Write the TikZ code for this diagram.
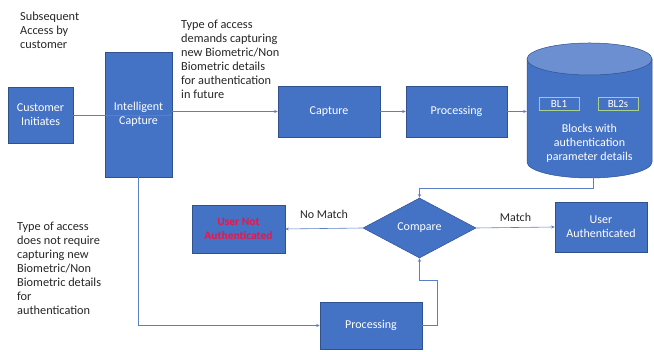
\documentclass[tikz,border=0pt]{standalone}
\usepackage{fontspec}
\setmainfont{Carlito}
\usetikzlibrary{arrows.meta,shapes.geometric}
\definecolor{boxblue}{HTML}{4472C4}
\definecolor{boxedge}{HTML}{2F528F}
\definecolor{lidblue}{HTML}{6C8FD2}
\definecolor{linkblue}{HTML}{5B7FC4}
\definecolor{notered}{HTML}{E8174B}
\definecolor{bltag}{HTML}{A9D18E}
\definecolor{inktext}{HTML}{262626}
\tikzset{
  block/.style={draw=boxedge, line width=0.5pt, fill=boxblue, text=white,
    align=center, inner sep=1pt, font=\fontsize{12}{14}\selectfont},
  decision/.style={diamond, draw=boxedge, line width=0.5pt, fill=boxblue,
    text=white, inner sep=0pt, font=\fontsize{12}{14}\selectfont},
  note/.style={align=left, text=inktext, inner sep=0pt,
    font=\fontsize{12.3}{14}\selectfont},
  link/.style={draw=linkblue, line width=0.6pt,
    -{Stealth[length=3.5pt,width=3pt]}},
  tag/.style={draw=bltag, line width=0.6pt, text=white, inner sep=0pt,
    minimum width=40pt, minimum height=13pt, font=\fontsize{11}{13}\selectfont},
  edgelabel/.style={above, text=inktext, font=\fontsize{12}{14}\selectfont},
}
\begin{document}
\begin{tikzpicture}[x=1pt,y=1pt]
\useasboundingbox (0,0) rectangle (654,352);

% process blocks
\node[block, minimum width=65pt, minimum height=56pt] (ci) at (40.5,237) {Customer\\Initiates};
\node[block, minimum width=67pt, minimum height=125pt] (ic) at (138.5,237.5) {Intelligent\\Capture};
\node[block, minimum width=102pt, minimum height=51pt] (cap) at (329,240.5) {Capture};
\node[block, minimum width=101pt, minimum height=51pt] (proc) at (456.5,240.5) {Processing};
\node[block, minimum width=102pt, minimum height=47pt] (proc2) at (371,26.5) {Processing};
\node[block, minimum width=92pt, minimum height=50pt] (ua) at (601,125) {User\\Authenticated};
\node[block, minimum width=93pt, minimum height=48pt, text=notered,
  font=\bfseries\fontsize{11.5}{13.5}\selectfont] (una) at (238.5,123) {User Not\\Authenticated};
\node[decision, minimum width=113pt, minimum height=60pt, aspect=1.9] (cmp) at (419.5,124) {Compare};

% storage cylinder
\fill[boxblue, draw=boxedge, line width=0.5pt]
  (527,293) -- (527,190) arc[start angle=180, end angle=360, x radius=62.5, y radius=16]
  -- (652,293) -- cycle;
\fill[lidblue, draw=boxedge, line width=0.5pt] (589.5,293) ellipse [x radius=62.5, y radius=16];
\node[inner sep=0pt, minimum width=125pt, minimum height=119pt] (db) at (589.5,233.5) {};
\node[tag] (bl1) at (559,248.5) {BL1};
\node[tag] (bl2) at (618,248.5) {BL2s};
\node[text=white, align=center, font=\fontsize{12}{14}\selectfont] (dbtxt) at (589.5,209)
  {Blocks with\\authentication\\parameter details};

% annotations
\node[note, anchor=north west] (n1) at (20,340) {Subsequent\\Access by\\customer};
\node[note, anchor=north west] (n2) at (181,332) {Type of access\\demands capturing\\new Biometric/Non\\Biometric details\\for authentication\\in future};
\node[note, anchor=north west] (n3) at (17,130) {Type of access\\does not require\\capturing new\\Biometric/Non\\Biometric details\\for\\authentication};

% connectors
\draw[link] (ci.east) -- (ic.east |- ci.east);
\draw[link] (ic.east |- cap.west) -- (cap.west);
\draw[link] (cap.east) -- (proc.west);
\draw[link] (proc.east) -- (db.west |- proc.east);
\draw[link] (ic.south) |- (proc2.west);
\coordinate (up1) at (437,72);
\draw[link] (proc2.east) -| (up1) -| (cmp.south);
\coordinate (dbfoot) at (593,175);
\coordinate (dn1) at (593,164);
\draw[link] (dbfoot) -- (dn1) -| (cmp.north);
\draw[link] (cmp.east) -- node[edgelabel, yshift=2pt] (mlab) {Match} (ua.west);
\draw[link] (cmp.west) -- node[edgelabel, yshift=6pt] (nmlab) {No Match} (una.east);
\end{tikzpicture}
\end{document}
